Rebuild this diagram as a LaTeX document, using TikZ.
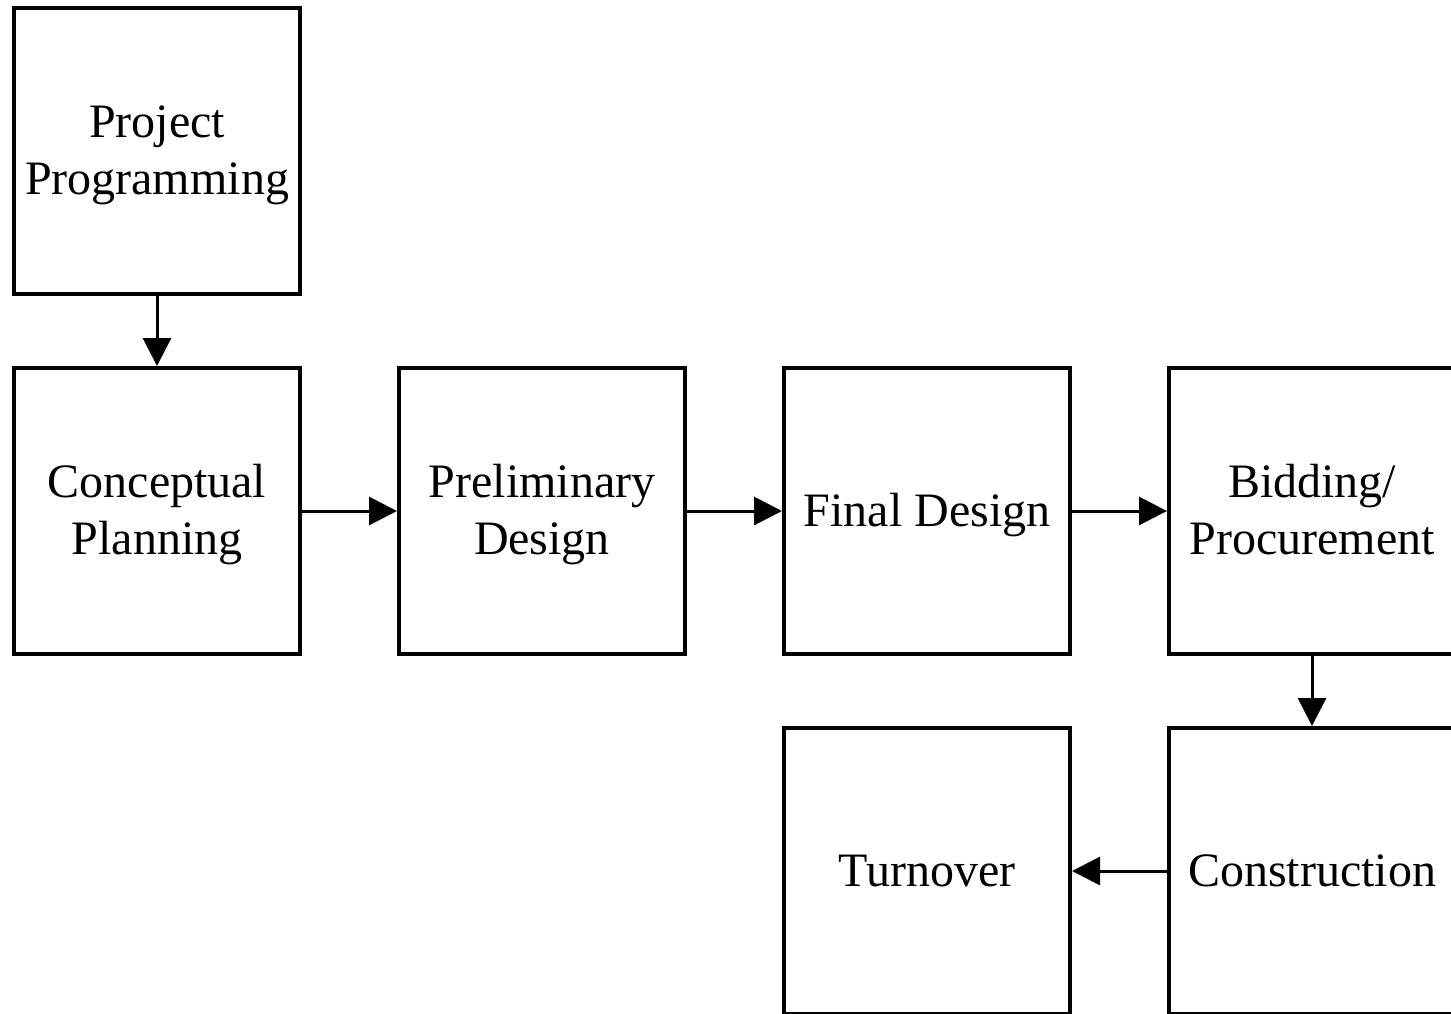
\documentclass[tikz,border=0pt]{standalone}
\usepackage{fontspec}
\setmainfont{Liberation Serif}
\usetikzlibrary{arrows.meta}
\newcommand{\tstrut}{\rule[-13.1pt]{0pt}{57pt}}
\begin{document}
\begin{tikzpicture}[x=1pt,y=-1pt,
  stagebox/.style={draw=black, line width=4pt, minimum width=286pt, minimum height=286pt,
    inner sep=0pt, align=center, font=\fontsize{48}{57}\selectfont},
  flow/.style={line width=3pt, -{Triangle[length=28pt,width=28pt]}}]
\useasboundingbox (0,0) rectangle (1451,1013);
\node[stagebox] (pp) at (157,151) {\tstrut Project\\\tstrut Programming};
\node[stagebox] (cp) at (157,511) {\tstrut Conceptual\\\tstrut Planning};
\node[stagebox] (pd) at (542,511) {\tstrut Preliminary\\\tstrut Design};
\node[stagebox] (fd) at (927,511) {\tstrut Final Design};
\node[stagebox] (bp) at (1312,511) {\tstrut Bidding/\\\tstrut Procurement};
\node[stagebox] (cn) at (1312,871) {\tstrut Construction};
\node[stagebox] (tn) at (927,871) {\tstrut Turnover};
\draw[flow] (pp.south) -- (cp.north);
\draw[flow] (cp.east) -- (pd.west);
\draw[flow] (pd.east) -- (fd.west);
\draw[flow] (fd.east) -- (bp.west);
\draw[flow] (bp.south) -- (cn.north);
\draw[flow] (cn.west) -- (tn.east);
\end{tikzpicture}
\end{document}
